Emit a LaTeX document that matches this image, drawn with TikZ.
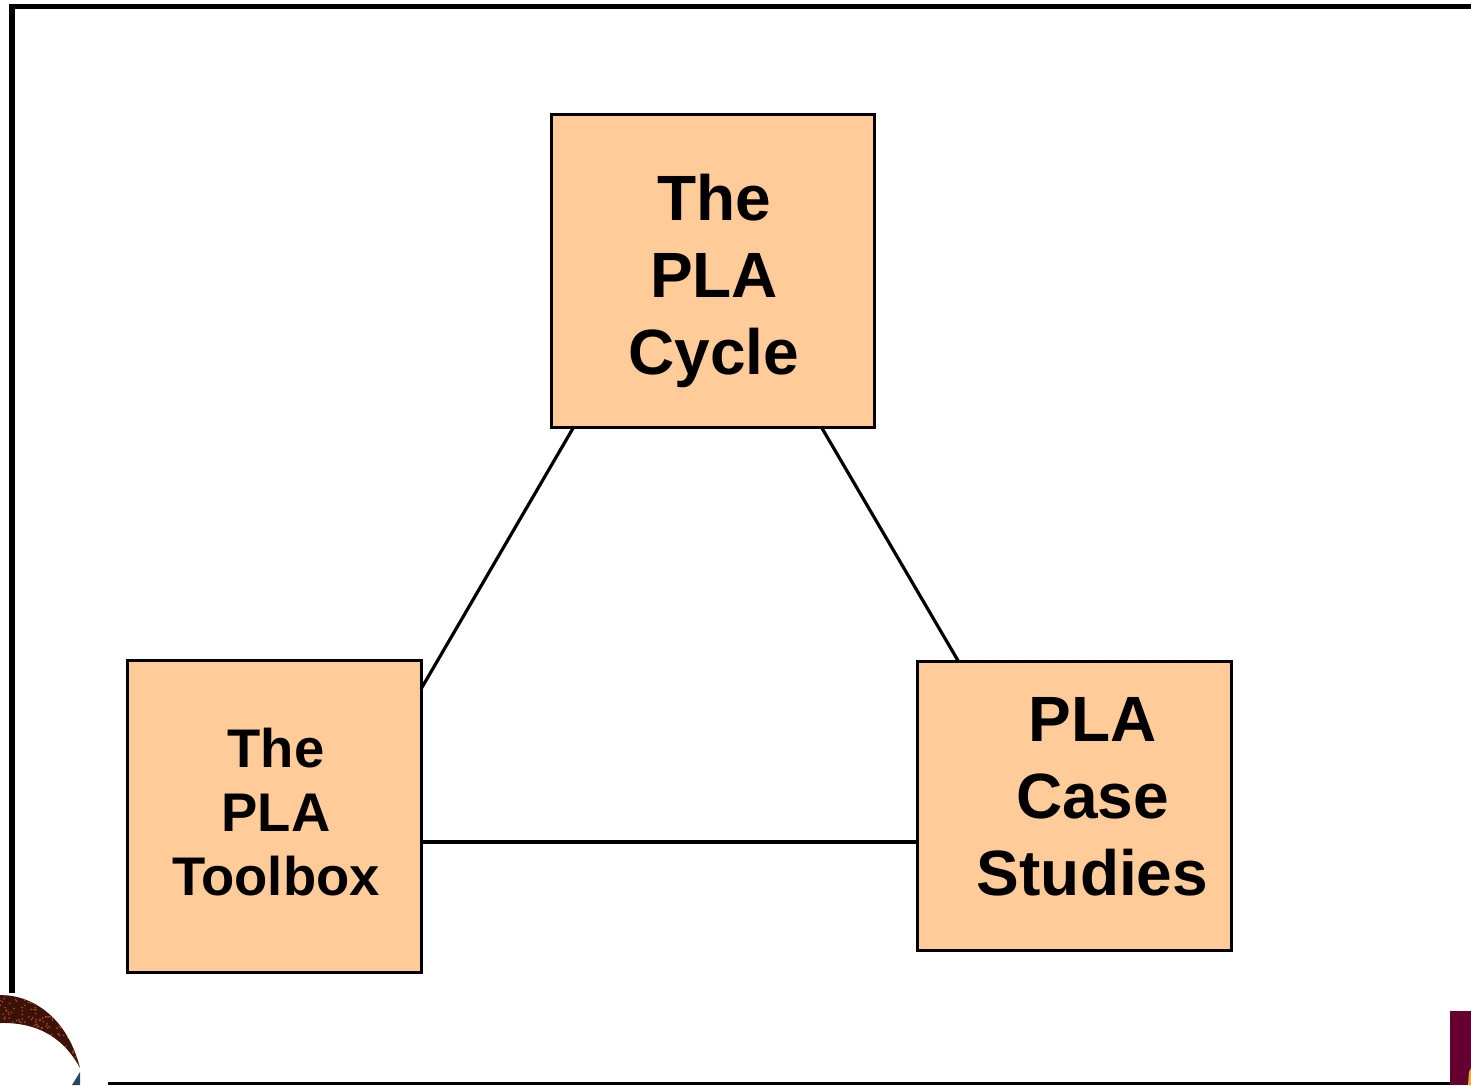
\documentclass[tikz,border=0pt]{standalone}
\usepackage{fontspec}
\setmainfont{Liberation Sans}
\definecolor{boxfill}{HTML}{FFCC99}
\definecolor{crescent}{HTML}{3A1208}
\definecolor{speck}{HTML}{B8452A}
\definecolor{tealpiece}{HTML}{24485C}
\definecolor{maroon}{HTML}{660033}
\definecolor{goldpiece}{HTML}{F0B020}
\begin{document}
\begin{tikzpicture}[x=1pt,y=-1pt,
  boxnode/.style={draw=black,line width=2.6pt,fill=boxfill,inner sep=0pt,anchor=north west},
  biglabel/.style={font=\bfseries\fontsize{64}{77}\selectfont,align=center,inner sep=0pt,anchor=base},
  midlabel/.style={font=\bfseries\fontsize{54.4}{64}\selectfont,align=center,inner sep=0pt,anchor=base},
  link/.style={draw=black,line width=3.2pt},
  frame/.style={draw=black,line width=5.5pt}]
\useasboundingbox (0,0) rectangle (1471,1085);
% slide frame
\coordinate (frameBL) at (12,993);
\coordinate (frameTL) at (12,6.5);
\coordinate (frameTR) at (1471,6.5);
\draw[frame,line join=miter] (frameBL) -- (frameTL) -- (frameTR);
\coordinate (footL) at (108,1083.5);
\coordinate (footR) at (1450,1083.5);
\draw[draw=black,line width=3.5pt] (footL) -- (footR);
% logo fragments
\begin{scope}
\clip (0,995) .. controls (35,995) and (68,1020) .. (80,1068)
      .. controls (65,1040) and (40,1022) .. (0,1023) -- cycle;
\fill[crescent] (0,990) rectangle (85,1072);
\pgfmathsetseed{7}
\foreach \i in {1,...,320}{
  \pgfmathsetmacro{\px}{rnd*82}
  \pgfmathsetmacro{\py}{990+rnd*80}
  \fill[speck] (\px,\py) circle[radius=0.9];
}
\end{scope}
\fill[tealpiece] (80,1072) -- (72,1085) -- (80,1085) -- cycle;
\fill[maroon] (1450,1011) rectangle (1471,1085);
\fill[goldpiece] (1468,1085) -- (1469,1072) -- (1471,1068) -- (1471,1085) -- cycle;
% boxes
\node[boxnode,minimum width=323.2pt,minimum height=313.2pt] (cycle) at (550,113.2) {};
\node[boxnode,minimum width=294.2pt,minimum height=312.2pt] (toolbox) at (126,659.2) {};
\node[boxnode,minimum width=314.2pt,minimum height=289.2pt] (cases) at (916,660.2) {};
% connectors
\coordinate (cycleL) at (574,426.5);
\coordinate (toolT) at (421,689);
\coordinate (cycleR) at (821,426.5);
\coordinate (caseT) at (958.5,661.5);
\coordinate (toolM) at (421,842);
\coordinate (caseM) at (917.5,842);
\draw[link] (cycleL) -- (toolT);
\draw[link] (cycleR) -- (caseT);
\draw[link] (toolM) -- (caseM);
% labels
\node[biglabel] (cycleText) at (714,374) {The\\PLA\\Cycle};
\node[midlabel] (toolText) at (276,895.5) {The\\PLA\\Toolbox};
\node[biglabel] (caseText) at (1092.5,895) {PLA\\Case\\Studies};
\end{tikzpicture}
\end{document}
